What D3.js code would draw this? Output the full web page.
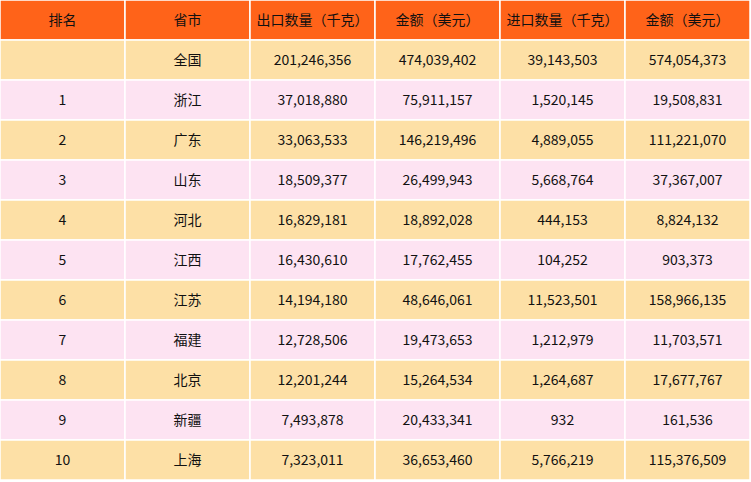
<!DOCTYPE html>
<html><head><meta charset="utf-8">
<script src="https://cdn.jsdelivr.net/npm/d3@7"></script>
<style>body{margin:0;background:#fff}</style>
</head><body>
<script>
var headers = ["排名", "省市", "出口数量（千克）", "金额（美元）", "进口数量（千克）", "金额（美元）"];
var ranks = ["", "1", "2", "3", "4", "5", "6", "7", "8", "9", "10"];
var provinces = ["全国", "浙江", "广东", "山东", "河北", "江西", "江苏", "福建", "北京", "新疆", "上海"];
var exportQty = [201246356, 37018880, 33063533, 18509377, 16829181, 16430610, 14194180, 12728506, 12201244, 7493878, 7323011];
var exportUsd = [474039402, 75911157, 146219496, 26499943, 18892028, 17762455, 48646061, 19473653, 15264534, 20433341, 36653460];
var importQty = [39143503, 1520145, 4889055, 5668764, 444153, 104252, 11523501, 1212979, 1264687, 932, 5766219];
var importUsd = [574054373, 19508831, 111221070, 37367007, 8824132, 903373, 158966135, 11703571, 17677767, 161536, 115376509];

var W = 751, H = 482, fmt = d3.format(",");
var rows = ranks.map(function(r, i) {
    return [r, provinces[i], fmt(exportQty[i]), fmt(exportUsd[i]), fmt(importQty[i]), fmt(importUsd[i])];
});

var svg = d3.select("body").append("svg").attr("width", W).attr("height", H);
var x = d3.scaleBand().domain(d3.range(6)).range([0, 750]);
var y = d3.scaleBand().domain(d3.range(12)).range([0, 480]);

// header
var hg = svg.append("g");
hg.selectAll("rect").data(headers).enter().append("rect")
    .attr("x", function(d, i) { return x(i); }).attr("y", 0)
    .attr("width", x.bandwidth()).attr("height", y.bandwidth())
    .attr("fill", "#ff6319").attr("stroke", "#fff").attr("stroke-width", 1.5);
hg.selectAll("text").data(headers).enter().append("text")
    .attr("x", function(d, i) { return x(i) + x.bandwidth() / 2; })
    .attr("y", y.bandwidth() / 2 + 5)
    .attr("text-anchor", "middle").attr("font-size", 14)
    .attr("font-family", "Noto Sans CJK SC").attr("fill", "#111").text(function(d) { return d; });

// body rows
var rg = svg.selectAll("g.row").data(rows).enter().append("g").attr("class", "row")
    .attr("transform", function(d, i) { return "translate(0," + y(i + 1) + ")"; });
rg.selectAll("rect").data(function(d, i) { return d.map(function(v) { return {v: v, r: i}; }); })
    .enter().append("rect")
    .attr("x", function(d, i) { return x(i); })
    .attr("width", x.bandwidth()).attr("height", y.bandwidth())
    .attr("fill", function(d) { return d.r % 2 ? "#fde3f2" : "#fde0a6"; })
    .attr("stroke", "#fff").attr("stroke-width", 1.5);
rg.selectAll("text").data(function(d) { return d; }).enter().append("text")
    .attr("x", function(d, i) { return x(i) + x.bandwidth() / 2; })
    .attr("y", y.bandwidth() / 2 + 5)
    .attr("text-anchor", "middle").attr("font-size", 14)
    .attr("font-family", "Noto Sans CJK SC, DejaVu Sans").attr("fill", "#111")
    .text(function(d) { return d; });
</script>
</body></html>
